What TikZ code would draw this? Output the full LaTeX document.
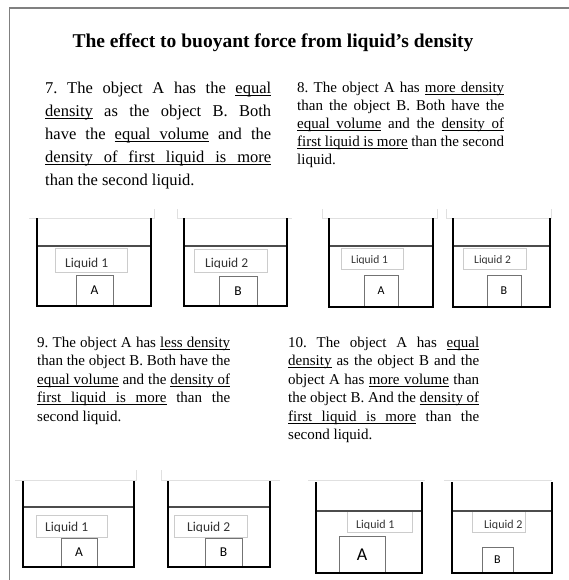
\documentclass[tikz,border=0pt]{standalone}
\usepackage{fontspec}
\setmainfont{Liberation Serif}
\newfontfamily\calib{Carlito}
\frenchspacing
\newcommand\ulw[1]{\setbox0\hbox{#1}\rlap{\vrule height -1.5pt depth 2.3pt width \wd0}\box0\relax}
\newcommand\usp{\leaders\hrule height -1.5pt depth 2.3pt\hskip\fontdimen2\font plus\fontdimen3\font minus\fontdimen4\font\relax}
\newcommand\drawbeaker[5]{%
  \draw[waterline] (#1,#4) -- (#2,#4);
  \draw[wall] (#1,#3) -- (#1,#5) -- (#2,#5) -- (#2,#3);}
\newcommand\liqlabel[9]{%
  \draw[lblbox] (#1,#2) rectangle (#3,#4);
  \begin{scope}
    \clip (#1,#2) rectangle (#3,#6+0.7);
    \node[inner sep=0, font=\calib\fontsize{#9}{#9}\selectfont, text=black!80, anchor=base west] (#7) at (#5,#6) {#8};
  \end{scope}}
\newcommand\objbox[7]{%
  \draw[objline] (#1,#2) rectangle (#3,#4);
  \node[inner sep=0, font=\calib\fontsize{#7}{#7}\selectfont] (#5) at ({(#1+#3)/2},{(#2+#4)/2}) {#6};}
\begin{document}
\begin{tikzpicture}[x=1pt,y=-1pt,
  wall/.style={line width=1.8pt, black},
  waterline/.style={line width=1.1pt, black!70},
  objline/.style={line width=0.8pt, black!55},
  lblbox/.style={line width=0.6pt, black!20},
  rim/.style={line width=0.8pt, black!12},
  para/.style={anchor=base west, inner sep=0, align=justify, text width=#1, execute at begin node=\frenchspacing}]
\useasboundingbox (0,0) rectangle (569,580);
\draw[line width=1.6pt, black!50] (9.5,580) -- (9.5,8) -- (569,8);
\node[inner sep=0, anchor=base, font=\bfseries\fontsize{19.5}{23}\selectfont] (title) at (273,48) {The effect to buoyant force from liquid's density};
% paragraphs
\node[para=226pt, font=\fontsize{16.5}{23}\selectfont] (p7) at (45,94) {7. The object A has the \ulw{equal}\linebreak \ulw{density} as the object B. Both\linebreak have the \ulw{equal}\usp\ulw{volume} and the\linebreak \ulw{density}\usp\ulw{of}\usp\ulw{first}\usp\ulw{liquid}\usp\ulw{is}\usp\ulw{more}\linebreak than the second liquid.};
\node[para=207pt, font=\fontsize{15}{18}\selectfont] (p8) at (297,93) {8. The object A has \ulw{more}\usp\ulw{density}\linebreak than the object B. Both have the\linebreak \ulw{equal}\usp\ulw{volume} and the \ulw{density}\usp\ulw{of}\linebreak \ulw{first}\usp\ulw{liquid}\usp\ulw{is}\usp\ulw{more} than the second\linebreak liquid.};
\node[para=193pt, font=\fontsize{15}{18.5}\selectfont] (p9) at (37,347) {9. The object A has \ulw{less}\usp\ulw{density}\linebreak than the object B. Both have the\linebreak \ulw{equal}\usp\ulw{volume} and the \ulw{density}\usp\ulw{of}\linebreak \ulw{first}\usp\ulw{liquid}\usp\ulw{is}\usp\ulw{more} than the\linebreak second liquid.};
\node[para=191pt, font=\fontsize{15}{18.5}\selectfont] (p10) at (288,347) {10. The object A has \ulw{equal}\linebreak \ulw{density} as the object B and the\linebreak object A has \ulw{more}\usp\ulw{volume} than\linebreak the object B. And the \ulw{density}\usp\ulw{of}\linebreak \ulw{first}\usp\ulw{liquid}\usp\ulw{is}\usp\ulw{more} than the\linebreak second liquid.};
% rims
\draw[rim] (29,218) -- (154,218) -- (154,209);
\draw[rim] (177,209) -- (177,218) -- (292,218);
\draw[rim] (322,209) -- (322,218) -- (437,218) -- (437,209);
\draw[rim] (446,209) -- (446,218) -- (551,218) -- (551,209);
\draw[rim] (15,480) -- (136,480) -- (136,470);
\draw[rim] (161,470) -- (161,480) -- (280,480);
\draw[rim] (308,480) -- (425,480);
\draw[rim] (444,480) -- (552,480);
% labels
\liqlabel{55}{248}{127}{272}{65}{267}{l1}{Liquid 1}{13.5}
\liqlabel{194}{249}{267}{272}{205}{267}{l2}{Liquid 2}{13.5}
\liqlabel{341}{248}{403}{269}{351}{263}{l3}{Liquid 1}{11.5}
\liqlabel{463}{248}{526}{269}{474}{263}{l4}{Liquid 2}{11.5}
\liqlabel{36}{515}{107}{537}{45}{531}{l5}{Liquid 1}{13.5}
\liqlabel{174}{515}{247}{537}{187}{531}{l6}{Liquid 2}{13.5}
\liqlabel{347}{511}{412}{532}{356}{528}{l7}{Liquid 1}{12}
\liqlabel{472}{511}{525}{532}{484}{528}{l8}{Liquid 2}{12}
% objects
\objbox{76}{275}{113}{306}{a1}{A}{13.5}
\objbox{219}{276}{257}{306}{b1}{B}{13.5}
\objbox{364}{275}{398}{307}{a2}{A}{12}
\objbox{487}{275}{521}{307}{b2}{B}{12}
\objbox{61}{538}{97}{567}{a3}{A}{13.5}
\objbox{205}{538}{242}{567}{b3}{B}{13.5}
\objbox{339}{536}{385}{573}{a4}{A}{18}
\objbox{482}{547}{513}{573}{b4}{B}{12}
% beakers
\drawbeaker{37}{151}{218}{246}{306}
\drawbeaker{184}{287}{218}{246}{306}
\drawbeaker{329}{433}{218}{246}{307}
\drawbeaker{453}{550}{218}{246}{307}
\drawbeaker{23}{134}{481}{507}{567}
\drawbeaker{168}{270}{481}{507}{567}
\drawbeaker{316}{422}{482}{511}{573}
\drawbeaker{452}{552}{482}{511}{573}
\end{tikzpicture}
\end{document}
